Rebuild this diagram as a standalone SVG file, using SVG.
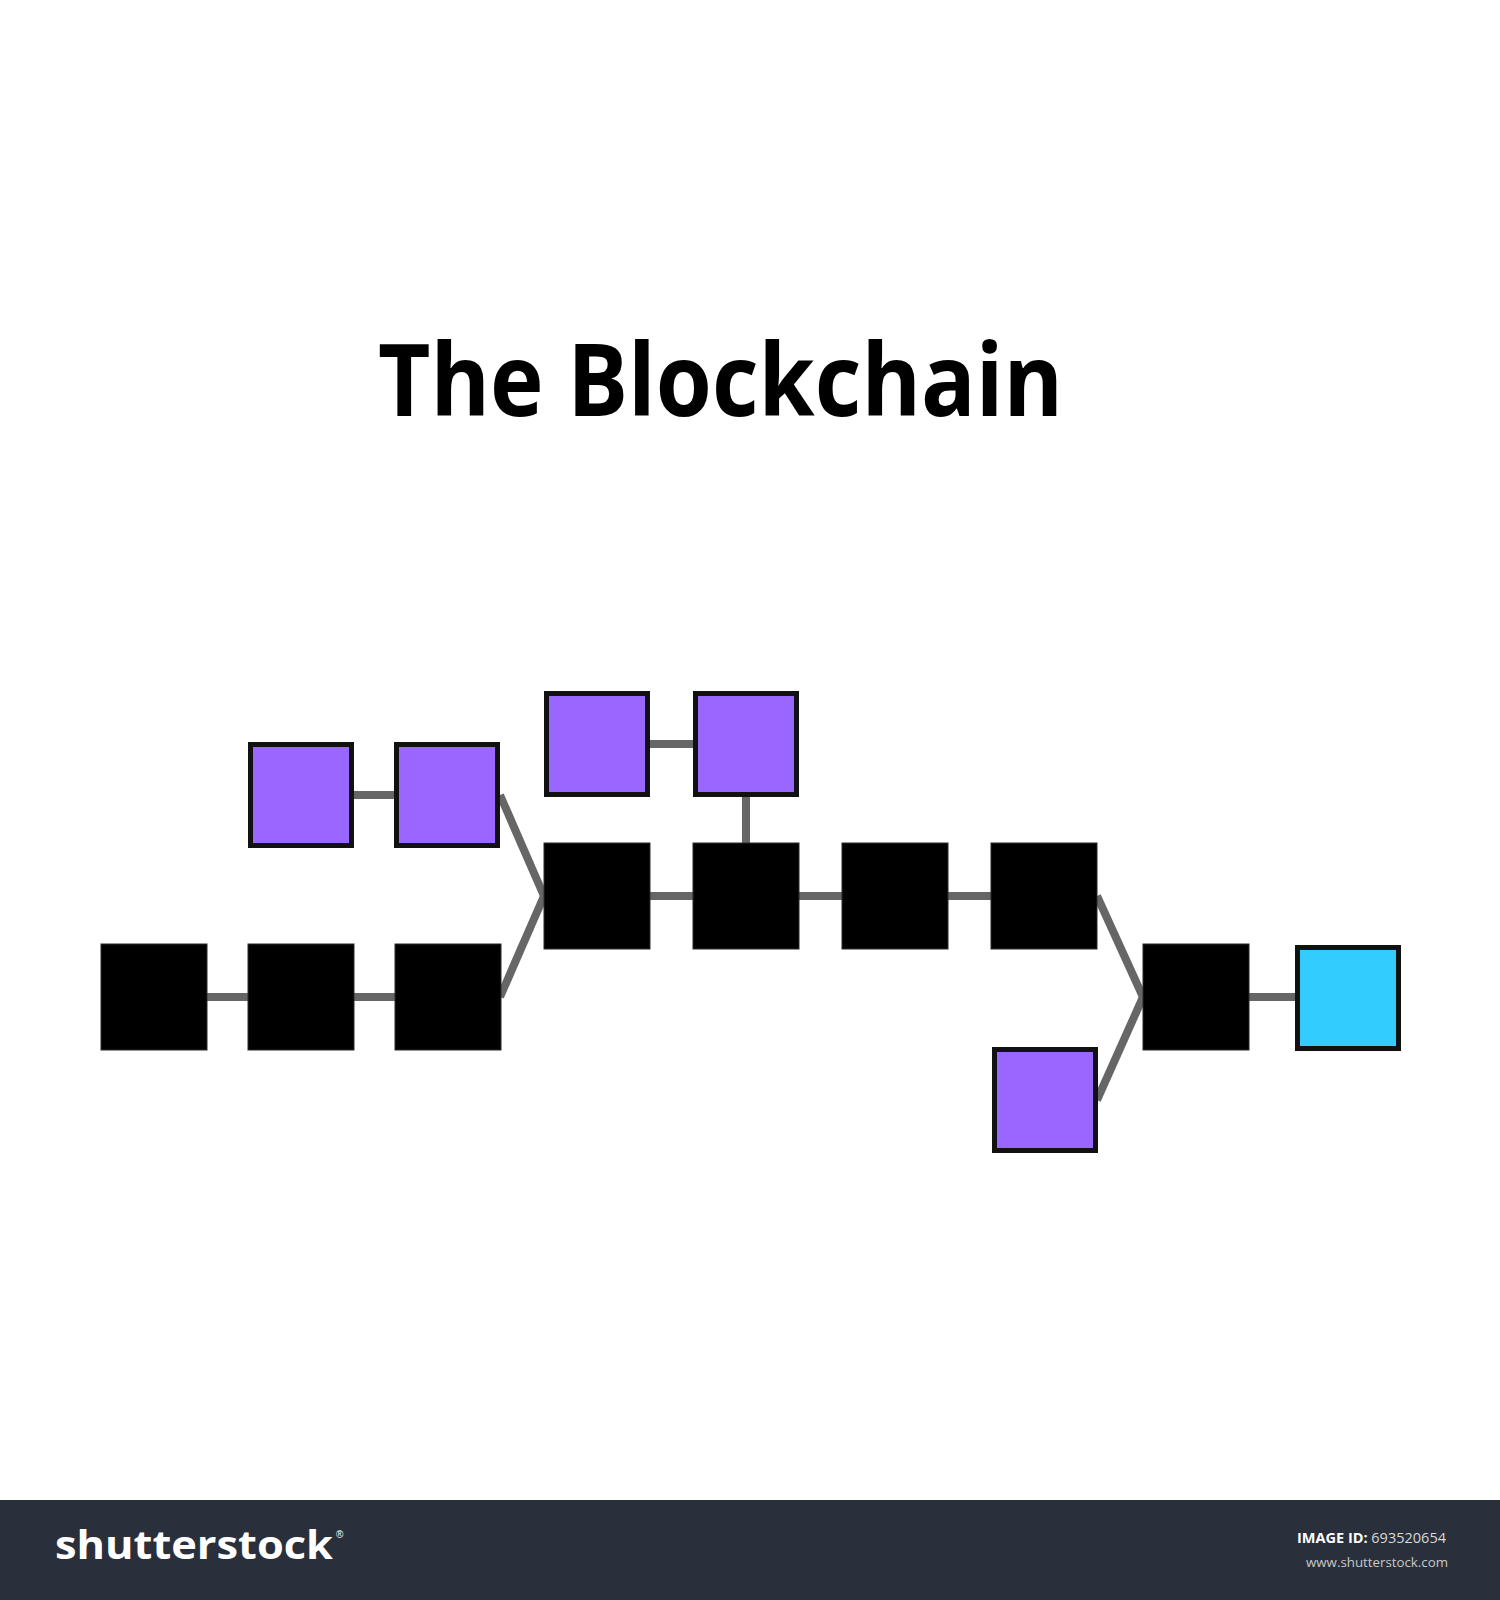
<svg xmlns="http://www.w3.org/2000/svg" width="1500" height="1600" viewBox="0 0 1500 1600">
  <style>
    .blk { fill: #000000; stroke: #2a2a2a; stroke-width: 1; }
    .pur { fill: #9966ff; stroke: #111111; stroke-width: 5; }
    .cyn { fill: #33ccff; stroke: #111111; stroke-width: 5; }
    .con { stroke: #666666; stroke-width: 8; fill: none; stroke-linecap: butt; }
    .title { font-family: "Open Sans", "Noto Sans", "Liberation Sans", sans-serif; font-weight: 700; font-size: 100px; fill: #000000; }
  </style>
  <rect x="0" y="0" width="1500" height="1600" fill="#ffffff"/>

  <text class="title" x="378" y="416" textLength="685" lengthAdjust="spacingAndGlyphs">The Blockchain</text>

  <g id="connectors">
    <line class="con" x1="154" y1="997" x2="448" y2="997"/>
    <line class="con" x1="301" y1="795" x2="447" y2="795"/>
    <line class="con" x1="500" y1="795" x2="544" y2="896"/>
    <line class="con" x1="500" y1="997" x2="544" y2="896"/>
    <line class="con" x1="597" y1="896" x2="1044" y2="896"/>
    <line class="con" x1="597" y1="744" x2="746" y2="744"/>
    <line class="con" x1="746" y1="744" x2="746" y2="896"/>
    <line class="con" x1="1097" y1="896" x2="1143" y2="997"/>
    <line class="con" x1="1097" y1="1100" x2="1143" y2="997"/>
    <line class="con" x1="1196" y1="997" x2="1348" y2="997"/>
  </g>

  <g id="b1"><rect class="blk" x="101" y="944" width="106" height="106"/></g>
  <g id="b2"><rect class="blk" x="248" y="944" width="106" height="106"/></g>
  <g id="b3"><rect class="blk" x="395" y="944" width="106" height="106"/></g>
  <g id="p1"><rect class="pur" x="250.5" y="744.5" width="101" height="101"/></g>
  <g id="p2"><rect class="pur" x="396.5" y="744.5" width="101" height="101"/></g>
  <g id="m1"><rect class="blk" x="544" y="843" width="106" height="106"/></g>
  <g id="m2"><rect class="blk" x="693" y="843" width="106" height="106"/></g>
  <g id="m3"><rect class="blk" x="842" y="843" width="106" height="106"/></g>
  <g id="m4"><rect class="blk" x="991" y="843" width="106" height="106"/></g>
  <g id="t1"><rect class="pur" x="546.5" y="693.5" width="101" height="101"/></g>
  <g id="t2"><rect class="pur" x="695.5" y="693.5" width="101" height="101"/></g>
  <g id="r1"><rect class="blk" x="1143" y="944" width="106" height="106"/></g>
  <g id="r2"><rect class="cyn" x="1297.5" y="947.5" width="101" height="101"/></g>
  <g id="r3"><rect class="pur" x="994.5" y="1049.5" width="101" height="101"/></g>

  <g id="footer">
    <rect x="0" y="1500" width="1500" height="100" fill="#29303b"/>
    <text x="55" y="1559" font-family="'Open Sans', 'Liberation Sans', sans-serif" font-weight="700" font-size="40" fill="#ffffff" textLength="278" lengthAdjust="spacingAndGlyphs">shutterstock</text>
    <text x="336" y="1538" font-family="'Liberation Sans', sans-serif" font-size="10" fill="#ffffff">®</text>
    <text x="1297" y="1543" font-family="'Open Sans', 'Liberation Sans', sans-serif" font-size="14" fill="#ffffff" textLength="149" lengthAdjust="spacingAndGlyphs"><tspan font-weight="700">IMAGE ID:</tspan><tspan fill="#d8d8d8"> 693520654</tspan></text>
    <text x="1306" y="1567" font-family="'Open Sans', 'Liberation Sans', sans-serif" font-size="13" fill="#c8c8c8" textLength="142" lengthAdjust="spacingAndGlyphs">www.shutterstock.com</text>
  </g>
</svg>
